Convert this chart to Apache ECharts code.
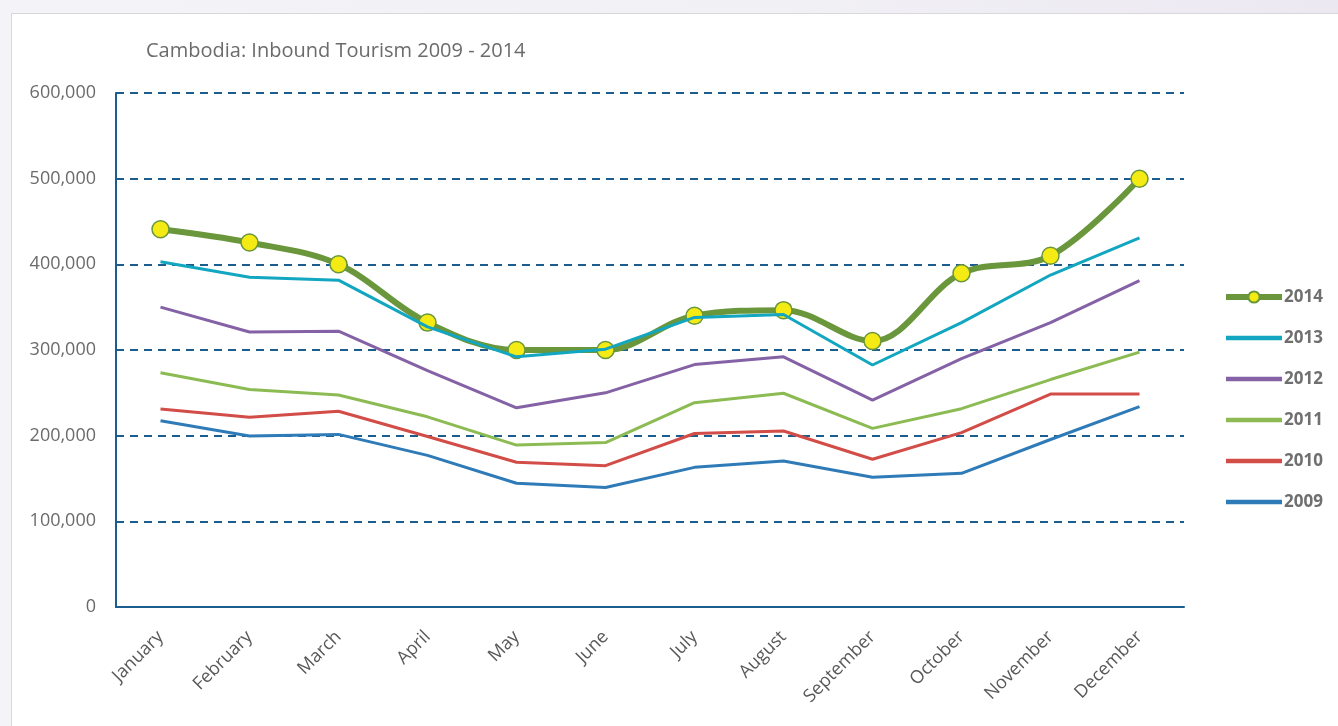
<!DOCTYPE html>
<html>
<head>
<meta charset="utf-8">
<script src="https://cdn.jsdelivr.net/npm/echarts@6/dist/echarts.min.js"></script>
<style>
  html, body { margin: 0; padding: 0; }
  body {
    width: 1338px;
    height: 726px;
    overflow: hidden;
    background: linear-gradient(90deg, #f4f3f8 0%, #f1f0f5 60%, #ece8f2 100%);
  }
  .panel {
    position: absolute;
    left: 11px;
    top: 13px;
    width: 1340px;
    height: 730px;
    background: #fff;
    border: 1px solid #d8d8d8;
  }
  #chart {
    position: absolute;
    left: 0;
    top: 0;
    width: 1338px;
    height: 726px;
  }
</style>
</head>
<body>
<div class="panel"></div>
<div id="chart"></div>
<script>
const months = ['January', 'February', 'March', 'April', 'May', 'June', 'July', 'August', 'September', 'October', 'November', 'December'];

const arrivals2014 = [441000, 425500, 400000, 332000, 300000, 300000, 340000, 346500, 310500, 389500, 410000, 500000];
const arrivals2013 = [403000, 385000, 381500, 327000, 292000, 301000, 338000, 341500, 282500, 332000, 387500, 431000];
const arrivals2012 = [350000, 321000, 322000, 276000, 232500, 250000, 283000, 292000, 241500, 290000, 332000, 381000];
const arrivals2011 = [273500, 254000, 247500, 222000, 189000, 192000, 238500, 249500, 208500, 231500, 265500, 297500];
const arrivals2010 = [231000, 221500, 228500, 199000, 169000, 165000, 202500, 205500, 172500, 203500, 248500, 248500];
const arrivals2009 = [217500, 199500, 201500, 177000, 144500, 139500, 163000, 170500, 151500, 156000, 195500, 234000];

const yTicks = [0, 100000, 200000, 300000, 400000, 500000, 600000];

const chartTitle = 'Cambodia: Inbound Tourism 2009 - 2014';

const axisBlue = '#1a5d8e';
const labelFont = '"Open Sans", "DejaVu Sans", sans-serif';

const myChart = echarts.init(document.getElementById('chart'));

// simple straight line series for the older years
const plainLine = (name, data, color) => ({
  name: name,
  type: 'line',
  data: data,
  symbol: 'none',
  smooth: false,
  lineStyle: { color: color, width: 3 },
  itemStyle: { color: color },
  z: 3
});

// legend entry without the dot, just a thick line
const legendLineOnly = name => ({
  name: name,
  itemStyle: { opacity: 0 },
  lineStyle: { width: 4.5 }
});

const option = {
  animation: false,
  title: {
    text: chartTitle,
    left: 141,
    top: 36,
    textStyle: {
      fontFamily: labelFont,
      fontSize: 20,
      fontWeight: 'normal',
      color: '#6b6b6b'
    }
  },
  grid: {
    left: 116,
    right: 154,
    top: 93,
    bottom: 119
  },
  legend: {
    orient: 'vertical',
    left: 1223,
    top: 287,
    padding: 0,
    itemWidth: 56,
    itemHeight: 14,
    itemGap: 21,
    data: [
      { name: '2014', lineStyle: { width: 6 } },
      legendLineOnly('2013'),
      legendLineOnly('2012'),
      legendLineOnly('2011'),
      legendLineOnly('2010'),
      legendLineOnly('2009')
    ],
    textStyle: {
      fontFamily: labelFont,
      fontSize: 17,
      fontWeight: 'bold',
      color: '#6f6f6f',
      lineHeight: 20,
      padding: [0, 0, 0, -3]
    }
  },
  xAxis: {
    type: 'category',
    data: months,
    boundaryGap: true,
    axisLine: { lineStyle: { color: axisBlue, width: 2 } },
    axisTick: { show: false },
    axisLabel: {
      rotate: 45,
      margin: 27,
      fontFamily: labelFont,
      fontSize: 18,
      color: '#595959'
    }
  },
  yAxis: {
    type: 'value',
    min: 0,
    max: 600000,
    interval: 100000,
    axisLine: { show: true, lineStyle: { color: axisBlue, width: 2 } },
    axisTick: { show: false },
    axisLabel: {
      margin: 20,
      fontFamily: labelFont,
      fontSize: 18,
      color: '#6b6b6b',
      formatter: v => yTicks.includes(v) ? v.toLocaleString('en-US') : ''
    },
    splitLine: {
      lineStyle: { color: axisBlue, width: 2, type: [8, 6] }
    }
  },
  series: [
    {
      name: '2014',
      type: 'line',
      data: arrivals2014,
      smooth: 0.35,
      symbol: 'circle',
      symbolSize: 17,
      lineStyle: { color: '#6a963c', width: 6 },
      itemStyle: { color: '#f4ea14', borderColor: '#6a963c', borderWidth: 1.5 },
      z: 2
    },
    plainLine('2013', arrivals2013, '#12a6c0'),
    plainLine('2012', arrivals2012, '#8462a5'),
    plainLine('2011', arrivals2011, '#8dbb53'),
    plainLine('2010', arrivals2010, '#d24c48'),
    plainLine('2009', arrivals2009, '#2f7bb8')
  ]
};

myChart.setOption(option);
</script>
</body>
</html>
